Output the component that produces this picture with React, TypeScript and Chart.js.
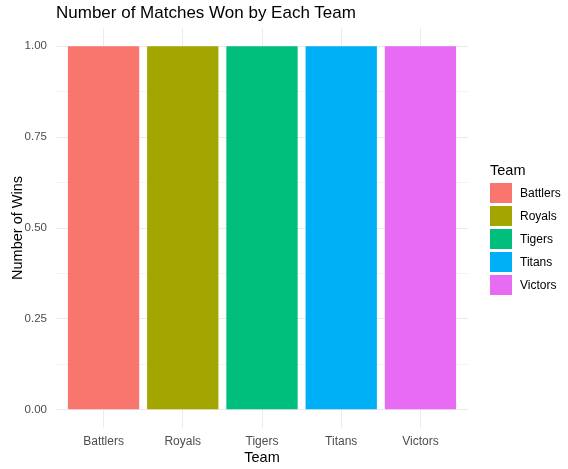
import React, { useEffect, useRef } from "react";
import { Chart, registerables } from "chart.js";

Chart.register(...registerables);

const teams = ["Battlers", "Royals", "Tigers", "Titans", "Victors"];
const wins = [1, 1, 1, 1, 1];
const colors = ["#F8766D", "#A3A500", "#00BF7D", "#00B0F6", "#E76BF3"];
const yMajorTicks = [0, 0.25, 0.5, 0.75, 1];
const yAllTicks = [0, 0.125, 0.25, 0.375, 0.5, 0.625, 0.75, 0.875, 1];

const FONT = "'Liberation Sans', Arial, Helvetica, sans-serif";

export default function App() {
  const ref = useRef<HTMLCanvasElement | null>(null);

  useEffect(() => {
    if (!ref.current) return;
    const isMajor = (v: number) => yMajorTicks.some((m) => Math.abs(m - v) < 1e-9);
    const chart = new Chart(ref.current, {
      type: "bar",
      data: {
        datasets: [
          {
            data: teams.map((t, i) => ({ x: i, y: wins[i] })),
            backgroundColor: colors,
            borderWidth: 0,
            categoryPercentage: 0.9,
            barPercentage: 1,
          } as any,
        ],
      },
      options: {
        animation: false,
        responsive: true,
        maintainAspectRatio: false,
        layout: { padding: { top: 28, right: 100, left: 0, bottom: 0 } },
        plugins: { legend: { display: false }, tooltip: { enabled: false }, title: { display: false } },
        scales: {
          x: {
            type: "linear",
            min: -0.6,
            max: teams.length - 1 + 0.6,
            offset: false,
            afterBuildTicks: (scale: any) => {
              scale.ticks = teams.map((_, i) => ({ value: i }));
            },
            afterFit: (scale: any) => {
              scale.height = 41;
            },
            ticks: {
              callback: (v: any) => teams[Math.round(Number(v))] ?? "",
              color: "#4d4d4d",
              font: { family: FONT, size: 12 },
              padding: 6,
              maxRotation: 0,
              autoSkip: false,
            },
            grid: { color: "#ebebeb", lineWidth: 1, drawTicks: false, offset: false },
            border: { display: false },
            title: {
              display: true,
              text: "Team",
              color: "#000000",
              font: { family: FONT, size: 14.5 },
              padding: { top: 0, bottom: 2 },
            },
          },
          y: {
            min: -0.05,
            max: 1.05,
            afterBuildTicks: (scale: any) => {
              scale.ticks = yAllTicks.map((v) => ({ value: v }));
            },
            afterFit: (scale: any) => {
              scale.width = 56;
            },
            ticks: {
              callback: (v: any) => (isMajor(Number(v)) ? Number(v).toFixed(2) : ""),
              color: "#4d4d4d",
              font: { family: FONT, size: 11.5 },
              padding: 9,
              autoSkip: false,
            },
            grid: {
              color: (ctx: any) => (ctx.tick && isMajor(ctx.tick.value) ? "#ebebeb" : "#f4f4f4"),
              lineWidth: 1,
              drawTicks: false,
            },
            border: { display: false },
            title: {
              display: true,
              text: "Number of Wins",
              color: "#000000",
              font: { family: FONT, size: 14.5 },
              padding: { top: 9, bottom: 0 },
            },
          },
        },
      } as any,
    });
    return () => chart.destroy();
  }, []);

  return (
    <div style={{ position: "absolute", left: 0, top: 0, width: 568, height: 469, background: "#fff", fontFamily: FONT }}>
      <canvas ref={ref} width={568} height={469} />
      <div style={{ position: "absolute", left: 56, top: 3, fontSize: 17, color: "#000", whiteSpace: "nowrap" }}>
        Number of Matches Won by Each Team
      </div>
      <div style={{ position: "absolute", left: 490, top: 162, fontSize: 14.5, color: "#000" }}>Team</div>
      {teams.map((t, i) => (
        <div key={t} style={{ position: "absolute", left: 490, top: 183 + i * 23, height: 20, display: "flex", alignItems: "center" }}>
          <div style={{ width: 22, height: 20, background: colors[i] }} />
          <div style={{ marginLeft: 8, fontSize: 12, color: "#000" }}>{t}</div>
        </div>
      ))}
    </div>
  );
}
